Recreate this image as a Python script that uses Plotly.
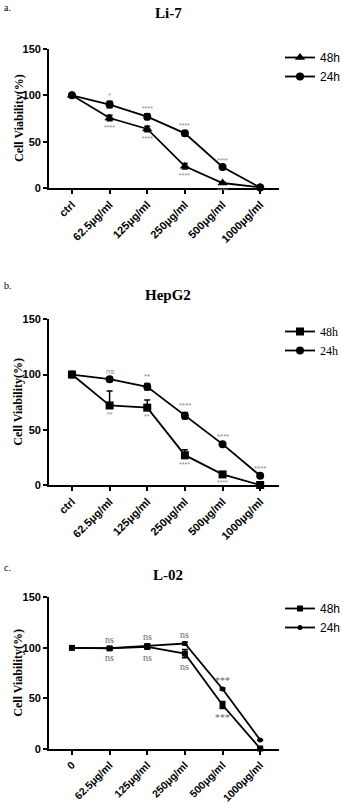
import plotly.graph_objects as go

W, H = 343, 803

cats_ab = ["ctrl", "62.5μg/ml", "125μg/ml", "250μg/ml", "500μg/ml", "1000μg/ml"]
cats_c = ["0", "62.5μg/ml", "125μg/ml", "250μg/ml", "500μg/ml", "1000μg/ml"]

# Panel a: Li-7
a_48 = [100, 75.5, 63.7, 23.4, 5.4, 0.7]
a_48_err = [0.5, 3, 3, 3, 1.2, 0.5]
a_24 = [100, 90, 77, 59, 22.7, 0.5]
a_24_err = [0.5, 3.5, 3, 2.5, 1, 0.5]
a_sig_48 = ["", "****", "****", "****", "****", ""]
a_sig_24 = ["", "*", "****", "****", "****", ""]

# Panel b: HepG2
b_48 = [100, 72, 70, 27, 9.6, 0]
b_48_err_up = [0.5, 13, 7, 5, 2, 0.5]
b_48_err_dn = [0.5, 2, 2, 3, 1.5, 0.5]
b_24 = [100, 95.8, 88.9, 62.7, 37, 8.4]
b_24_err = [0.5, 1, 3, 3, 1.2, 1]
b_sig_48 = ["", "**", "**", "****", "****", "****"]
b_sig_24 = ["", "ns", "**", "****", "****", "****"]

# Panel c: L-02
c_48 = [100, 99.5, 101, 94.3, 43.5, 0.5]
c_48_err = [0.5, 1, 2, 4, 3.5, 0.5]
c_24 = [100, 99.7, 102, 104.3, 59.4, 8.9]
c_24_err = [0.5, 1, 2, 1.5, 1, 0.5]
c_sig_48 = ["", "ns", "ns", "ns", "***", ""]
c_sig_24 = ["", "ns", "ns", "ns", "***", ""]

SANS = "Liberation Sans, Arial"
SERIF = "Liberation Serif, Times New Roman"


def px_x(p):
    return p / W


def px_y(p):
    return 1 - p / H


x_dom = [px_x(49), px_x(279)]
panels = [
    dict(top=49, bot=188, title="Li-7", label="a.", title_y=13, label_y=7,
         cats=cats_ab, legfont=SANS, legsize=12, leg_y=43, xfont=11),
    dict(top=319.3, bot=485, title="HepG2", label="b.", title_y=295, label_y=285,
         cats=cats_ab, legfont=SERIF, legsize=12, leg_y=317, xfont=11),
    dict(top=597.3, bot=749, title="L-02", label="c.", title_y=575, label_y=567,
         cats=cats_c, legfont=SANS, legsize=12, leg_y=594, xfont=10.5),
]

fig = go.Figure()
annotations = []


def add_series(idx, name, cats, ys, err_up, err_dn, symbol, size, legend):
    sfx = "" if idx == 1 else str(idx)
    fig.add_trace(go.Scatter(
        x=list(range(len(cats))), y=ys, name=name, mode="lines+markers",
        line=dict(color="black", width=1.8),
        marker=dict(symbol=symbol, size=size, color="black"),
        error_y=dict(type="data", array=err_up, arrayminus=err_dn, symmetric=False,
                     color="black", thickness=1.5, width=3),
        xaxis="x" + sfx, yaxis="y" + sfx, legend=legend, cliponaxis=False,
    ))


def add_sig(idx, ys, errs, labels, above, font_family, size, color):
    sfx = "" if idx == 1 else str(idx)
    for i, (v, e, t) in enumerate(zip(ys, errs, labels)):
        if not t:
            continue
        annotations.append(dict(
            x=i, y=v + e if above else v - e, xref="x" + sfx, yref="y" + sfx,
            text=t, showarrow=False,
            yanchor="bottom" if above else "top",
            yshift=0 if above else -1,
            font=dict(family=font_family, size=size, color=color),
        ))


# a
add_series(1, "48h", cats_ab, a_48, a_48_err, a_48_err, "triangle-up", 9, "legend")
add_series(1, "24h", cats_ab, a_24, a_24_err, a_24_err, "circle", 8, "legend")
add_sig(1, a_48, a_48_err, a_sig_48, False, SANS, 7, "#888")
add_sig(1, a_24, a_24_err, a_sig_24, True, SANS, 7, "#888")
# b
add_series(2, "48h", cats_ab, b_48, b_48_err_up, b_48_err_dn, "square", 8, "legend2")
add_series(2, "24h", cats_ab, b_24, b_24_err, b_24_err, "circle", 8, "legend2")
add_sig(2, b_48, b_48_err_dn, b_sig_48, False, SANS, 7, "#888")
add_sig(2, b_24, b_24_err, b_sig_24, True, SANS, 8, "#888")
# c
add_series(3, "48h", cats_c, c_48, c_48_err, c_48_err, "square", 6, "legend3")
add_series(3, "24h", cats_c, c_24, c_24_err, c_24_err, "circle", 5, "legend3")
add_sig(3, c_48, c_48_err, c_sig_48, False, SERIF, 10, "#666")
add_sig(3, c_24, c_24_err, c_sig_24, True, SERIF, 10, "#666")

layout = dict(
    width=W, height=H, margin=dict(l=0, r=0, t=0, b=0, autoexpand=False),
    paper_bgcolor="white", plot_bgcolor="white", showlegend=True,
)

for k, p in enumerate(panels, start=1):
    sfx = "" if k == 1 else str(k)
    ydom = [px_y(p["bot"]), px_y(p["top"])]
    layout["xaxis" + sfx] = dict(
        domain=x_dom, range=[-0.61, 5.5], anchor="y" + sfx, automargin=False,
        tickmode="array", tickvals=list(range(len(p["cats"]))), ticktext=p["cats"],
        tickangle=-45, ticks="outside", ticklen=4, tickwidth=1.5, tickcolor="black",
        showline=True, linecolor="black", linewidth=1.8, showgrid=False, zeroline=False,
        tickfont=dict(family=SANS, size=p["xfont"], color="black", weight="bold"),
    )
    layout["yaxis" + sfx] = dict(
        domain=ydom, range=[0, 150], anchor="x" + sfx, automargin=False,
        tickvals=[0, 50, 100, 150], ticks="outside", ticklen=4, tickwidth=1.5,
        tickcolor="black", showline=True, linecolor="black", linewidth=1.8,
        showgrid=False, zeroline=False,
        tickfont=dict(family=SANS, size=11, color="black", weight="bold"),
    )
    leg = "legend" if k == 1 else "legend" + str(k)
    layout[leg] = dict(
        x=px_x(280), xanchor="left", y=px_y(p["leg_y"]), yanchor="top",
        font=dict(family=p["legfont"], size=p["legsize"], color="black"),
        bgcolor="rgba(0,0,0,0)", itemwidth=30, tracegroupgap=0,
    )
    annotations.append(dict(
        x=px_x(168), y=px_y(p["title_y"]), xref="paper", yref="paper",
        xanchor="center", yanchor="middle",
        text="<b>" + p["title"] + "</b>", showarrow=False,
        font=dict(family=SERIF, size=15, color="black"),
    ))
    annotations.append(dict(
        x=px_x(2), y=px_y(p["label_y"]), xref="paper", yref="paper",
        xanchor="left", yanchor="middle",
        text=p["label"], showarrow=False,
        font=dict(family=SERIF, size=10, color="black"),
    ))
    annotations.append(dict(
        x=px_x(18.5), y=px_y((p["top"] + p["bot"]) / 2), xref="paper", yref="paper",
        xanchor="center", yanchor="middle",
        text="<b>Cell Viability(%)</b>", showarrow=False, textangle=-90,
        font=dict(family=SERIF, size=12, color="black"),
    ))

layout["annotations"] = annotations
fig.update_layout(**layout)
fig.write_html(
    "out.html",
    config={"displayModeBar": False},
    post_script="document.body.style.margin='0';document.body.style.overflow='hidden';",
)
